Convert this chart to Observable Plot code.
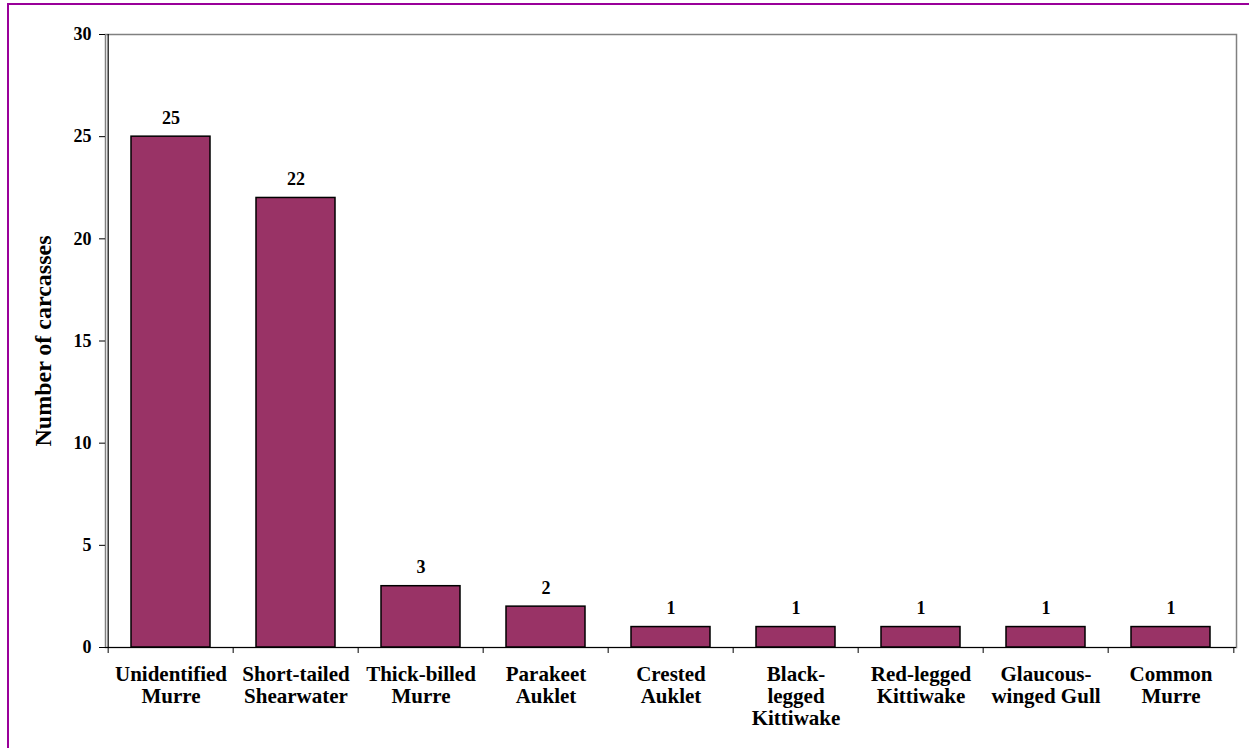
<!DOCTYPE html>
<html>
<head>
<meta charset="utf-8">
<script src="https://cdn.jsdelivr.net/npm/d3@7"></script>
<script src="https://cdn.jsdelivr.net/npm/@observablehq/plot@0.6"></script>
<style>
  html, body { margin: 0; padding: 0; background: white; }
  #wrap { position: relative; width: 1249px; height: 748px; overflow: hidden; background: white; }
  #border { position: absolute; left: 7px; top: 3px; width: 1300px; height: 800px; border: 2px solid #990099; pointer-events: none; }
</style>
</head>
<body>
<div id="wrap"><div id="border"></div></div>
<script>
const categories = ["Unidentified Murre", "Short-tailed Shearwater", "Thick-billed Murre", "Parakeet Auklet", "Crested Auklet", "Black-legged Kittiwake", "Red-legged Kittiwake", "Glaucous-winged Gull", "Common Murre"];
const labels = ["Unidentified\nMurre", "Short-tailed\nShearwater", "Thick-billed\nMurre", "Parakeet\nAuklet", "Crested\nAuklet", "Black-\nlegged\nKittiwake", "Red-legged\nKittiwake", "Glaucous-\nwinged Gull", "Common\nMurre"];
const counts = [25, 22, 3, 2, 1, 1, 1, 1, 1];
const yTicks = [0, 5, 10, 15, 20, 25, 30];
const yLabel = "Number of carcasses";

const data = categories.map((c, i) => ({category: c, count: counts[i], label: labels[i]}));
const labelOf = new Map(data.map(d => [d.category, d.label]));

const W = 1249, H = 748, mL = 105, mR = 13, mT = 34, mB = 101;
const half = (W - mL - mR) / categories.length / 2;

const chart = Plot.plot({
  width: W, height: H,
  marginLeft: mL, marginRight: mR, marginTop: mT, marginBottom: mB,
  style: {fontFamily: "'Liberation Serif','Times New Roman',serif", fontWeight: "bold", fontSize: "19px", color: "black", background: "white"},
  x: {domain: categories, paddingInner: 0.37, paddingOuter: 0.185, axis: null, label: null},
  y: {domain: [0, 30], axis: null, label: null},
  marks: [
    Plot.frame({stroke: "#808080", strokeWidth: 1.5}),
    Plot.ruleX([categories[0]], {y1: 0, y2: 30, dx: -half, stroke: "black", strokeWidth: 1.2}),
    Plot.barY(data, {x: "category", y: "count", fill: "#993366", stroke: "black", strokeWidth: 1.5}),
    Plot.ruleY([0], {stroke: "black", strokeWidth: 1.2}),
    Plot.axisY({ticks: yTicks, tickSize: 6, tickPadding: 8, fontSize: 18, stroke: "black", label: null}),
    Plot.axisX({tickSize: 6, tickFormat: () => "", dx: -half, stroke: "black", label: null}),
    Plot.axisX([categories[categories.length - 1]], {tickSize: 6, tickFormat: () => "", dx: half, stroke: "black", label: null}),
    Plot.axisX({tickSize: 0, tickPadding: 18, tickFormat: d => labelOf.get(d), lineHeight: 1.05, fontSize: 21, label: null}),
    Plot.text(data, {x: "category", y: "count", text: d => String(d.count), dy: -13, lineAnchor: "bottom", fontSize: 18}),
    Plot.text([yLabel], {frameAnchor: "left", rotate: -90, dx: -62, fontSize: 24, textAnchor: "middle", lineAnchor: "middle"})
  ]
});
document.getElementById("wrap").insertBefore(chart, document.getElementById("border"));
</script>
</body>
</html>
